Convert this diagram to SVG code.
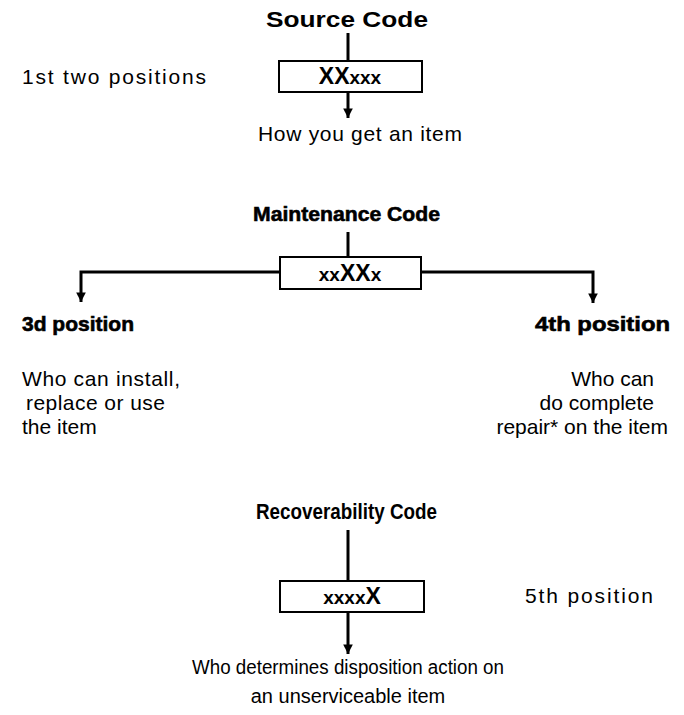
<svg xmlns="http://www.w3.org/2000/svg" width="684" height="715" viewBox="0 0 684 715">
<defs>
<style>
text{font-family:"Liberation Sans",Arial,sans-serif;fill:#000}
.t{font-size:21px}
.b{font-size:20px}
.h{font-size:22px;font-weight:bold}
.hh{font-size:21px;font-weight:bold;stroke:#000;stroke-width:0.6}
.c{font-weight:bold}
.ln{stroke:#000;stroke-width:3;fill:none}
.box{fill:#fff;stroke:#000;stroke-width:2}
</style>
<marker id="ah" viewBox="0 0 10 10" refX="10" refY="5" markerWidth="3.2" markerHeight="3.2" markerUnits="strokeWidth" orient="auto">
<path d="M0,0 L10,5 L0,10 z" fill="#000"/>
</marker>
</defs>
<g id="connectors">
<line class="ln" x1="348" y1="33" x2="348" y2="61"/>
<line class="ln" x1="348" y1="92" x2="348" y2="118" marker-end="url(#ah)"/>
<line class="ln" x1="348" y1="232" x2="348" y2="257"/>
<polyline class="ln" points="280,272 81,272 81,302" marker-end="url(#ah)"/>
<polyline class="ln" points="421,272 593,272 593,303" marker-end="url(#ah)"/>
<line class="ln" x1="348" y1="530" x2="348" y2="581"/>
<line class="ln" x1="348" y1="612" x2="348" y2="654" marker-end="url(#ah)"/>
</g>
<g id="source">
<text class="h" x="266" y="27" textLength="162" lengthAdjust="spacingAndGlyphs">Source Code</text>
<rect class="box" x="279" y="61" width="143" height="31"/>
<text x="350" y="84" text-anchor="middle" class="c"><tspan font-size="23">XX</tspan><tspan font-size="19">xxx</tspan></text>
</g>
<g id="source-labels">
<text class="t" x="22" y="84" textLength="184">1st two positions</text>
<text class="t" x="258" y="141" textLength="204">How you get an item</text>
</g>
<g id="maintenance">
<text class="hh" x="253" y="221" textLength="187" lengthAdjust="spacingAndGlyphs">Maintenance Code</text>
<rect class="box" x="280" y="257" width="141" height="32"/>
<text x="350" y="281" text-anchor="middle" class="c"><tspan font-size="19">xx</tspan><tspan font-size="23">XX</tspan><tspan font-size="19">x</tspan></text>
</g>
<g id="third">
<text class="hh" x="22" y="331">3d position</text>
<text class="t" x="22" y="386" textLength="158">Who can install,</text>
<text class="t" x="26" y="410" textLength="139">replace or use</text>
<text class="t" x="22" y="434">the item</text>
</g>
<g id="fourth">
<text class="hh" x="535" y="331" textLength="135" lengthAdjust="spacingAndGlyphs">4th position</text>
<text class="t" x="654" y="386" text-anchor="end">Who can</text>
<text class="t" x="654" y="410" text-anchor="end">do complete</text>
<text class="t" x="668" y="434" text-anchor="end">repair* on the item</text>
</g>
<g id="recoverability">
<text class="h" x="256" y="519" textLength="181" lengthAdjust="spacingAndGlyphs">Recoverability Code</text>
<rect class="box" x="280" y="581" width="144" height="31"/>
<text x="352" y="604" text-anchor="middle" class="c"><tspan font-size="19">xxxx</tspan><tspan font-size="23">X</tspan></text>
<text class="t" x="525" y="603" textLength="128">5th position</text>
</g>
<g id="recoverability-labels">
<text class="b" x="348" y="674" text-anchor="middle" textLength="312" lengthAdjust="spacingAndGlyphs">Who determines disposition action on</text>
<text class="b" x="348" y="703" text-anchor="middle">an unserviceable item</text>
</g>
</svg>
